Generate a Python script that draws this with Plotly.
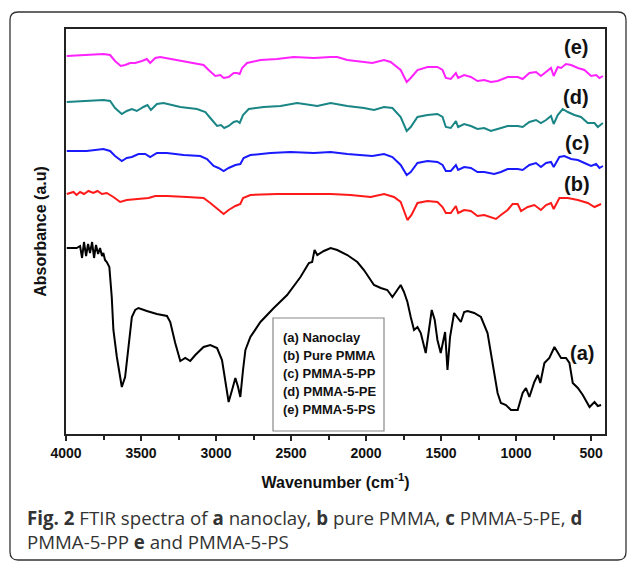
import plotly.graph_objects as go

# ---------------- data (wavenumber cm^-1, absorbance a.u.) ----------------
a_wn = [3995, 3929, 3906, 3893, 3880, 3866, 3853, 3840, 3826, 3813, 3800, 3786, 3773, 3760, 3751, 3740,
        3728, 3711, 3695, 3684, 3661, 3628, 3606, 3584, 3561, 3539, 3517, 3461, 3394, 3327, 3305, 3272,
        3238, 3205, 3172, 3138, 3083, 3038, 2993, 2960, 2938, 2916, 2893, 2871, 2853, 2838, 2820, 2804,
        2771, 2704, 2615, 2526, 2437, 2381, 2359, 2343, 2325, 2281, 2236, 2192, 2125, 2058, 2014, 1947,
        1902, 1858, 1824, 1802, 1769, 1747, 1724, 1702, 1680, 1657, 1635, 1602, 1580, 1562, 1542, 1524,
        1502, 1473, 1457, 1440, 1413, 1391, 1368, 1346, 1323, 1279, 1234, 1190, 1156, 1123, 1101, 1067,
        1034, 989, 956, 934, 911, 878, 855, 838, 811, 778, 744, 722, 700, 667, 644, 622,
        588, 555, 510, 477, 455, 433]
a_abs = [190, 190, 192, 180, 196, 182, 194, 185, 196, 180, 193, 184, 190, 182, 185, 178,
         176, 171, 141, 108, 81, 51, 61, 91, 121, 128, 130, 127, 124, 122, 116, 95,
         77, 80, 77, 83, 91, 93, 90, 78, 55, 36, 48, 60, 51, 41, 68, 88,
         101, 116, 130, 143, 161, 175, 176, 188, 183, 187, 190, 188, 183, 176, 168, 153,
         150, 148, 141, 146, 153, 146, 136, 121, 108, 111, 105, 85, 108, 128, 118, 98,
         85, 106, 68, 101, 125, 120, 116, 126, 127, 125, 121, 105, 75, 45, 35, 33,
         28, 28, 45, 50, 41, 56, 63, 55, 75, 80, 91, 86, 80, 80, 75, 55,
         50, 43, 31, 36, 32, 33]

b_wn = [3995, 3950, 3930, 3906, 3880, 3850, 3818, 3790, 3760, 3728, 3684, 3639, 3595, 3528, 3484, 3450,
        3405, 3327, 3194, 3083, 3038, 2993, 2971, 2949, 2916, 2871, 2838, 2820, 2771, 2593, 2370, 2236,
        2103, 1969, 1880, 1814, 1769, 1742, 1724, 1697, 1657, 1590, 1524, 1490, 1468, 1435, 1401, 1386,
        1346, 1301, 1257, 1212, 1179, 1134, 1101, 1056, 1023, 989, 967, 922, 878, 834, 800, 767,
        749, 711, 655, 588, 522, 477, 433]
b_abs = [244, 246, 243, 246, 244, 247, 245, 247, 244, 245, 241, 236, 238, 239, 240, 240,
         242, 242, 241, 240, 235, 229, 227, 224, 228, 232, 234, 240, 243, 244, 244, 244,
         243, 241, 244, 241, 236, 225, 218, 223, 235, 237, 236, 231, 225, 225, 232, 225,
         228, 227, 222, 223, 221, 219, 223, 228, 234, 234, 227, 231, 233, 228, 233, 235,
         229, 240, 240, 238, 235, 231, 234]

c_wn = [3995, 3862, 3751, 3706, 3673, 3628, 3595, 3561, 3517, 3472, 3439, 3394, 3327, 3216, 3105, 3060,
        3016, 2983, 2949, 2916, 2871, 2838, 2816, 2771, 2637, 2504, 2348, 2236, 2125, 2014, 1958, 1880,
        1824, 1769, 1729, 1702, 1657, 1590, 1524, 1490, 1468, 1435, 1401, 1386, 1346, 1301, 1257, 1212,
        1146, 1101, 1056, 989, 956, 911, 867, 834, 800, 767, 749, 711, 678, 633, 588, 544,
        500, 466, 444, 421]
c_abs = [287, 287, 289, 287, 282, 277, 280, 281, 284, 284, 281, 285, 285, 283, 282, 279,
         272, 270, 267, 270, 273, 274, 280, 283, 285, 286, 285, 286, 284, 283, 282, 284,
         281, 273, 263, 266, 275, 277, 276, 273, 267, 267, 273, 268, 271, 270, 266, 266,
         264, 266, 269, 269, 268, 273, 275, 271, 275, 276, 271, 281, 282, 279, 278, 275,
         272, 274, 270, 272]

d_wn = [3995, 3862, 3751, 3706, 3673, 3628, 3595, 3561, 3528, 3484, 3457, 3434, 3394, 3350, 3238, 3127,
        3071, 3038, 2993, 2967, 2945, 2916, 2882, 2860, 2842, 2820, 2782, 2682, 2570, 2459, 2325, 2236,
        2125, 2014, 1947, 1880, 1824, 1769, 1729, 1702, 1657, 1590, 1524, 1490, 1468, 1435, 1401, 1386,
        1346, 1301, 1257, 1212, 1168, 1123, 1056, 989, 956, 911, 867, 834, 800, 767, 749, 722,
        689, 655, 611, 567, 522, 477, 455, 421]
d_abs = [336, 337, 338, 337, 330, 324, 327, 329, 327, 331, 333, 328, 334, 335, 331, 329,
         326, 320, 312, 313, 310, 312, 316, 317, 315, 323, 329, 331, 332, 335, 332, 335,
         332, 330, 328, 331, 330, 321, 307, 311, 321, 323, 324, 321, 311, 310, 317, 311,
         314, 312, 309, 310, 307, 309, 312, 312, 311, 316, 318, 315, 318, 322, 314, 323,
         329, 326, 323, 321, 315, 315, 311, 315]

e_wn = [3995, 3862, 3751, 3706, 3673, 3635, 3606, 3572, 3539, 3494, 3461, 3439, 3405, 3372, 3260, 3150,
        3083, 3049, 3005, 2971, 2949, 2916, 2882, 2860, 2842, 2826, 2793, 2704, 2593, 2482, 2348, 2236,
        2192, 2125, 2014, 1958, 1880, 1836, 1769, 1729, 1702, 1657, 1590, 1524, 1490, 1468, 1435, 1401,
        1386, 1346, 1301, 1257, 1212, 1168, 1123, 1056, 989, 956, 911, 867, 834, 800, 767, 749,
        722, 700, 667, 633, 588, 544, 500, 466, 444, 421]
e_abs = [382, 383, 384, 383, 377, 372, 373, 375, 375, 377, 379, 375, 380, 381, 378, 375,
         373, 368, 362, 363, 360, 361, 365, 365, 364, 370, 375, 378, 379, 381, 380, 381,
         381, 378, 376, 375, 378, 376, 368, 356, 360, 368, 371, 371, 368, 360, 359, 365,
         360, 363, 361, 357, 358, 356, 357, 361, 361, 359, 365, 366, 362, 366, 370, 362,
         371, 370, 374, 373, 370, 368, 362, 363, 360, 362]

series_names = ["(a) Nanoclay", "(b) Pure PMMA", "(c) PMMA-5-PP", "(d) PMMA-5-PE", "(e) PMMA-5-PS"]
curve_tags = ["(a)", "(b)", "(c)", "(d)", "(e)"]
tag_x = [560, 592, 592, 600, 600]
tag_y = [85, 254, 295, 341, 391]
x_ticks = [4000, 3500, 3000, 2500, 2000, 1500, 1000, 500]
x_range = [4000, 407]
y_range = [4, 409]

colors = ["#000000", "#ff1a1a", "#1a1aff", "#1a8585", "#ff22ff"]
data = [(a_wn, a_abs), (b_wn, b_abs), (c_wn, c_abs), (d_wn, d_abs), (e_wn, e_abs)]

# ---------------- figure ----------------
W, H = 629, 565
L, R, T, B = 66, 24, 29, 131
pw, ph = W - L - R, H - T - B

def px(xp):  # pixel -> paper x
    return (xp - L) / pw

def py(yp):  # pixel -> paper y
    return (H - B - yp) / ph

fig = go.Figure()
for (wn, ab), name, col in zip(data, series_names, colors):
    fig.add_trace(go.Scatter(x=wn, y=ab, mode="lines", name=name,
                             line=dict(color=col, width=2), showlegend=False))

bold = dict(family="Liberation Sans, Arial, sans-serif", color="#111")

fig.update_layout(
    width=W, height=H,
    margin=dict(l=L, r=R, t=T, b=B, autoexpand=False),
    paper_bgcolor="white", plot_bgcolor="white",
    xaxis=dict(range=x_range, tickvals=x_ticks, ticks="outside", ticklen=5, tickwidth=1.5,
               tickcolor="#222", showline=True, linecolor="#222", linewidth=1.5, mirror=True,
               showgrid=False, zeroline=False,
               tickfont=dict(size=14, weight="bold", **bold),
               minor=dict(dtick=250, ticks="outside", ticklen=4, tickwidth=1.5, tickcolor="#222",
                          showgrid=False),
               title=dict(text="Wavenumber (cm<sup>-1</sup>)", font=dict(size=16, weight="bold", **bold),
                          standoff=17),
               automargin=False),
    yaxis=dict(range=y_range, showticklabels=False, ticks="", showline=True, linecolor="#222",
               linewidth=1.5, mirror=True, showgrid=False, zeroline=False,
               title=dict(text="Absorbance (a.u)", font=dict(size=16, weight="bold", **bold),
                          standoff=14),
               automargin=False),
)

# curve tags
for t, xv, yv in zip(curve_tags, tag_x, tag_y):
    fig.add_annotation(x=xv, y=yv, xref="x", yref="y", text=f"<b>{t}</b>", showarrow=False,
                       font=dict(size=20, weight="bold", **bold), xanchor="center", yanchor="middle")

# legend box
fig.add_shape(type="rect", xref="paper", yref="paper", x0=px(273), x1=px(384), y0=py(431), y1=py(318),
              line=dict(color="#888", width=1.2), fillcolor="white", layer="above")
legend_rows = [337, 355, 373, 391, 409]
for name, yr in zip(series_names, legend_rows):
    fig.add_annotation(xref="paper", yref="paper", x=px(281), y=py(yr), xanchor="left", yanchor="middle",
                       showarrow=False, text=f"<b>{name}</b>",
                       font=dict(size=13, weight="bold", **bold))

# outer rounded frame
x0, x1, y0, y1 = px(10), px(626), py(560), py(12)
rx, ry = 8 / pw, 8 / ph
path = (f"M {x0+rx},{y1} L {x1-rx},{y1} Q {x1},{y1} {x1},{y1-ry} L {x1},{y0+ry} "
        f"Q {x1},{y0} {x1-rx},{y0} L {x0+rx},{y0} Q {x0},{y0} {x0},{y0+ry} "
        f"L {x0},{y1-ry} Q {x0},{y1} {x0+rx},{y1} Z")
fig.add_shape(type="path", xref="paper", yref="paper", path=path, line=dict(color="#333", width=1.3))

# caption
cap_font = dict(family="Open Sans, sans-serif", size=18.7, color="#333")
fig.add_annotation(xref="paper", yref="paper", x=px(25), y=py(517), xanchor="left", yanchor="middle",
                   showarrow=False, font=cap_font,
                   text="<b>Fig. 2</b> FTIR spectra of <b>a</b> nanoclay, <b>b</b> pure PMMA, <b>c</b> PMMA-5-PE, <b>d</b>")
fig.add_annotation(xref="paper", yref="paper", x=px(25), y=py(541), xanchor="left", yanchor="middle",
                   showarrow=False, font=cap_font,
                   text="PMMA-5-PP <b>e</b> and PMMA-5-PS")

fig.write_html("out.html", post_script="document.body.style.margin='0';",
               config={"displayModeBar": False})
